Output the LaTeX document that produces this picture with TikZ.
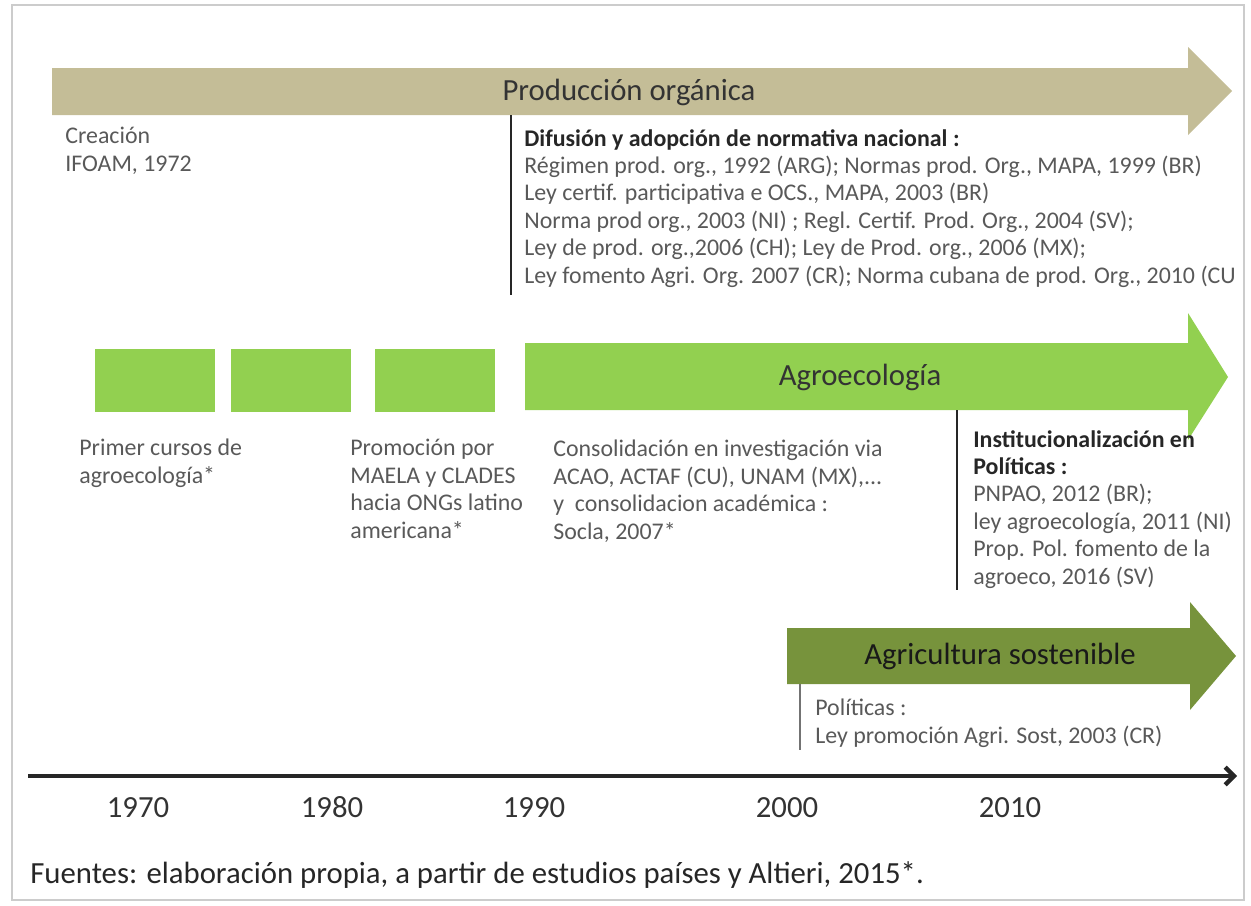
\documentclass[tikz,border=0pt]{standalone}
\usepackage{fontspec}
\setmainfont{Carlito}
\usetikzlibrary{arrows.meta,positioning}
\definecolor{tanband}{HTML}{C4BD97}
\definecolor{greenband}{HTML}{92D050}
\definecolor{oliveband}{HTML}{77933C}
\definecolor{txtgray}{HTML}{595959}
\tikzset{
  note/.style={anchor=north west, inner sep=0pt, align=left, text=txtgray, font=\fontsize{13.6}{15.6}\selectfont},
  bandlabel/.style={text=black!80, font=\fontsize{17.5}{20}\selectfont},
  greenbox/.style={fill=greenband, anchor=north west, inner sep=0pt, minimum width=2.4cm, minimum height=1.26cm},
  marker/.style={line width=0.8pt, black!85},
  yearlabel/.style={anchor=base, text=black!80, font=\fontsize{17.5}{20}\selectfont},
}
\begin{document}
\begin{tikzpicture}[x=0.02cm, y=-0.02cm]
\useasboundingbox (0,0) rectangle (1251,906);
% frame
\draw[gray!40, line width=1pt] (12,5) rectangle (1244,900);

% Produccion organica
\fill[tanband] (52,68) -- (1188,68) -- (1188,47) -- (1232,91) -- (1188,135) -- (1188,115) -- (52,115) -- cycle;
\node[bandlabel] (organica) at (629,92) {Producción orgánica};
\coordinate (org top) at (511,115);
\coordinate (org bot) at (511,295);
\draw[marker] (org top) -- (org bot);
\node[note] (ifoam) at (65,127) {Creación\\IFOAM, 1972};
\node[note] (normativa) at (524,129) {\textbf{\color{black!85}Difusión y adopción de normativa nacional :}\\
Régimen prod. org., 1992 (ARG); Normas prod. Org., MAPA, 1999 (BR)\\
Ley certif. participativa e OCS., MAPA, 2003 (BR)\\
Norma prod org., 2003 (NI) ; Regl. Certif. Prod. Org., 2004 (SV);\\
Ley de prod. org.,2006 (CH); Ley de Prod. org., 2006 (MX);\\
Ley fomento Agri. Org. 2007 (CR); Norma cubana de prod. Org., 2010 (CU};

% Agroecologia
\foreach \x/\n in {95/box1, 231/box2, 375/box3}
  \node[greenbox] (\n) at (\x,349) {};
\fill[greenband] (525,343) -- (1188,343) -- (1188,313) -- (1228,377) -- (1188,440) -- (1188,410) -- (525,410) -- cycle;
\node[bandlabel] (agroeco) at (860,377) {Agroecología};
\coordinate (agro top) at (957,410);
\coordinate (agro bot) at (957,590);
\draw[marker] (agro top) -- (agro bot);
\node[note] (cursos) at (79,439) {Primer cursos de\\agroecología*};
\node[note] (maela) at (350,439) {Promoción por\\MAELA y CLADES\\hacia ONGs latino\\americana*};
\node[note] (socla) at (553,440) {Consolidación en investigación via\\ACAO, ACTAF (CU), UNAM (MX),...\\y~ consolidacion académica :\\Socla, 2007*};
\node[note] (instit) at (973,430) {\textbf{\color{black!85}Institucionalización en}\\\textbf{\color{black!85}Políticas :}\\PNPAO, 2012 (BR);\\ley agroecología, 2011 (NI)\\Prop. Pol. fomento de la\\agroeco, 2016 (SV)};

% Agricultura sostenible
\fill[oliveband] (787,628) -- (1190,628) -- (1190,602) -- (1236,656) -- (1190,710) -- (1190,684) -- (787,684) -- cycle;
\node[bandlabel, text=black!90] (sostenible) at (1000,656) {Agricultura sostenible};
\coordinate (sost top) at (800,684);
\coordinate (sost bot) at (800,750);
\draw[marker, black!55] (sost top) -- (sost bot);
\node[note] (politicas) at (815,699) {Políticas :\\Ley promoción Agri. Sost, 2003 (CR)};

% timeline
\coordinate (tl start) at (28,776);
\coordinate (tl end) at (1237,776);
\draw[line width=2.5pt, black!85, -{Straight Barb[length=5pt, width=10pt]}] (tl start) -- (tl end);
\foreach \x/\yr in {138/1970, 332/1980, 534/1990, 787/2000, 1010/2010}
  \node[yearlabel] (y\yr) at (\x,817) {\yr};

\node[anchor=west, inner sep=0pt, text=black!85, font=\fontsize{17.5}{20}\selectfont] (fuentes) at (30,875) {Fuentes: elaboración propia, a partir de estudios países y Altieri, 2015*.};
\end{tikzpicture}
\end{document}
